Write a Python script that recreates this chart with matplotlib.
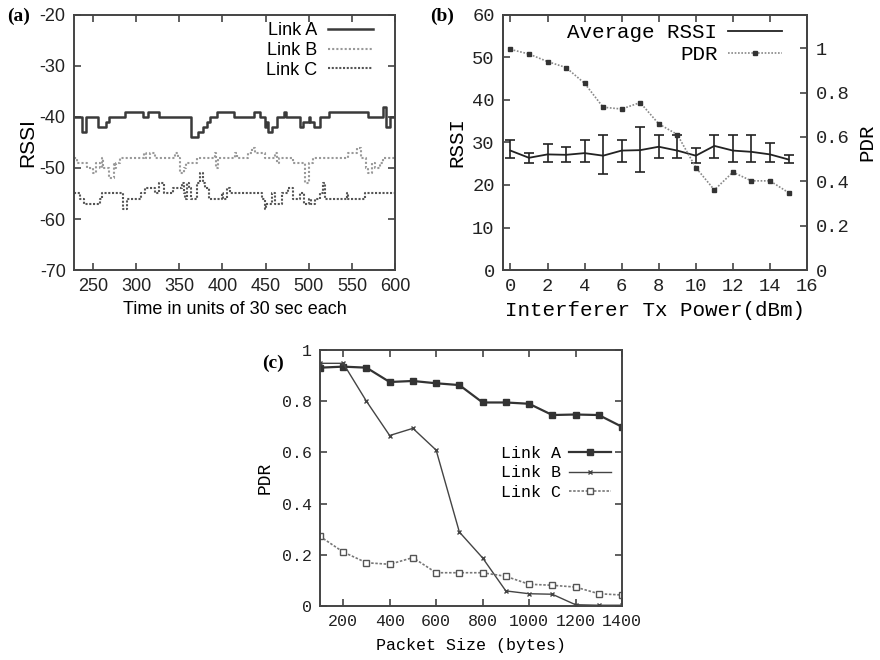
import numpy as np
import matplotlib
matplotlib.use("Agg")
import matplotlib.pyplot as plt
from matplotlib.lines import Line2D

plt.rcParams["axes.unicode_minus"] = False

# ---- (a) RSSI over time, step series (change points)
a_t = [228, 237, 242, 256, 265, 268, 287, 308, 314, 326, 364, 372, 378, 382, 386,
       394, 413, 436, 443, 449, 451, 453, 457, 463, 471, 474, 490, 493, 500, 502,
       506, 513, 523, 569, 586, 590, 594, 600]
a_v = [-40, -43, -40, -42, -41, -40, -39, -40, -39, -40, -44, -43, -42, -41, -40,
       -39, -40, -39, -40, -42, -41, -43, -42, -40, -39, -40, -42, -41, -40, -41,
       -42, -40, -39, -40, -38, -42, -40, -40]

b_t = [228, 231, 243, 250, 254, 258, 260, 262, 268, 274, 276, 277, 281, 309, 312,
       316, 322, 345, 349, 351, 356, 358, 370, 391, 393, 395, 415, 417, 430, 434,
       438, 449, 461, 463, 465, 482, 496, 500, 505, 546, 556, 560, 566, 569, 573,
       577, 583, 586, 600]
b_v = [-48, -49, -50, -51, -49, -50, -48, -50, -52, -49, -50, -49, -48, -47, -48,
       -47, -48, -47, -48, -51, -50, -49, -48, -47, -50, -48, -47, -48, -47, -46,
       -47, -48, -47, -49, -48, -49, -53, -49, -48, -47, -46, -48, -50, -51, -49,
       -50, -49, -48, -48]

c_t = [228, 235, 239, 258, 260, 285, 289, 306, 310, 322, 327, 332, 343, 353, 355,
       357, 359, 361, 364, 370, 374, 378, 380, 384, 399, 401, 405, 409, 446, 449,
       451, 457, 461, 469, 476, 482, 490, 494, 500, 503, 507, 513, 517, 519, 544,
       546, 565, 600]
c_v = [-55, -56, -57, -56, -55, -58, -56, -55, -54, -55, -53, -55, -54, -53, -55,
       -56, -53, -54, -56, -53, -51, -53, -54, -56, -55, -56, -54, -55, -56, -58,
       -57, -55, -57, -55, -54, -56, -55, -57, -56, -57, -56, -55, -53, -56, -55,
       -56, -55, -55]

# ---- (b) interferer power sweep
tx_power = list(range(16))
rssi_avg = [28.1, 26.4, 27.2, 27.1, 27.5, 26.9, 28.1, 28.2, 29.0, 28.1, 26.9, 29.2,
            28.1, 27.8, 27.2, 26.0]
rssi_hi = [30.7, 27.6, 29.6, 29.0, 30.7, 31.8, 30.7, 33.7, 31.7, 31.8, 28.8, 31.7,
           31.7, 31.7, 29.8, 27.1]
rssi_lo = [26.3, 25.1, 25.5, 25.5, 25.5, 22.7, 25.5, 23.1, 26.3, 26.3, 25.1, 26.3,
           25.5, 25.5, 25.5, 25.1]
pdr_b = [0.995, 0.974, 0.940, 0.913, 0.842, 0.734, 0.726, 0.755, 0.659, 0.611,
         0.462, 0.361, 0.441, 0.402, 0.402, 0.349]

# ---- (c) packet size sweep
pkt_size = [100, 200, 300, 400, 500, 600, 700, 800, 900, 1000, 1100, 1200, 1300, 1400]
pdr_a = [0.931, 0.935, 0.931, 0.875, 0.879, 0.870, 0.863, 0.795, 0.795, 0.790,
         0.746, 0.748, 0.746, 0.700]
pdr_bb = [0.948, 0.948, 0.800, 0.666, 0.694, 0.609, 0.289, 0.188, 0.059, 0.048,
          0.046, 0.005, 0.003, 0.003]
pdr_c = [0.272, 0.211, 0.169, 0.163, 0.189, 0.130, 0.130, 0.130, 0.116, 0.085,
         0.081, 0.074, 0.048, 0.043]

SANS = "Liberation Sans"
MONO = "Liberation Mono"
SERIF = "Liberation Serif"
FRAME = "#444444"


def style_axes(ax, font, size, right=True):
    for s in ax.spines.values():
        s.set_color(FRAME)
        s.set_linewidth(1.4)
    ax.tick_params(direction="in", length=5, width=1.2, color=FRAME,
                   top=True, right=right, labelsize=size, pad=6)
    for lab in ax.get_xticklabels() + ax.get_yticklabels():
        lab.set_fontfamily(font)
        lab.set_color("#222222")


fig = plt.figure(figsize=(8.8, 6.6), dpi=100)

# (a)
ax1 = fig.add_axes([0.0841, 0.5909, 0.3648, 0.3864])
ax1.step(a_t, a_v, where="post", color="#3a3a3a", lw=1.8, label="Link A")
ax1.step(b_t, b_v, where="post", color="#999999", lw=1.5, ls=(0, (1, 1)), label="Link B")
ax1.step(c_t, c_v, where="post", color="#555555", lw=1.5, ls=(0, (1, 0.8)), label="Link C")
ax1.set_xlim(228, 600)
ax1.set_ylim(-70, -20)
ax1.set_xticks([250, 300, 350, 400, 450, 500, 550, 600])
ax1.set_yticks([-70, -60, -50, -40, -30, -20])
style_axes(ax1, SANS, 13)
ax1.set_xlabel("Time in units of 30 sec each", fontfamily=SANS, fontsize=13, labelpad=4)
ax1.set_ylabel("RSSI", fontfamily=SANS, fontsize=15, labelpad=2)
ax1.legend(loc="upper right", bbox_to_anchor=(0.955, 1.0), frameon=False,
           markerfirst=False, handlelength=2.5,
           prop={"family": SANS, "size": 13}, labelspacing=0.15,
           borderaxespad=0.2, handletextpad=0.6, borderpad=0.2)
fig.text(0.008, 0.975, "(a)", fontfamily=SERIF, fontweight="bold", fontsize=14, va="center")

# (b)
ax2 = fig.add_axes([0.5716, 0.5909, 0.3455, 0.3864])
yerr = [np.array(rssi_avg) - np.array(rssi_lo), np.array(rssi_hi) - np.array(rssi_avg)]
ax2.errorbar(tx_power, rssi_avg, yerr=yerr, color="#222222", lw=1.3, elinewidth=1.2,
             capsize=3.5, capthick=1.2)
ax2.set_xlim(-0.4, 16)
ax2.set_ylim(0, 60)
ax2.set_xticks(range(0, 17, 2))
ax2.set_yticks(range(0, 61, 10))
ax2r = ax2.twinx()
pdr_line, = ax2r.plot(tx_power, pdr_b, color="#888888", lw=1.2, ls=(0, (1, 1)),
                      marker="s", ms=3, mfc="#333333", mec="#333333")
ax2r.set_ylim(0, 1.15)
ax2r.set_yticks([0, 0.2, 0.4, 0.6, 0.8, 1])
ax2r.set_yticklabels(["0", "0.2", "0.4", "0.6", "0.8", "1"])
style_axes(ax2, MONO, 13.5, right=False)
style_axes(ax2r, MONO, 13.5)
ax2r.tick_params(left=False, top=False)
ax2.set_xlabel("Interferer Tx Power(dBm)", fontfamily=MONO, fontsize=15, labelpad=4)
ax2.set_ylabel("RSSI", fontfamily=MONO, fontsize=15, labelpad=4)
ax2r.set_ylabel("PDR", fontfamily=MONO, fontsize=15, labelpad=6)
rssi_handle = Line2D([], [], color="#222222", lw=1.3)
ax2r.legend([rssi_handle, pdr_line], ["Average RSSI", "PDR"], loc="upper right",
            bbox_to_anchor=(0.945, 1.0), frameon=False, markerfirst=False,
            handlelength=2.6, prop={"family": MONO, "size": 15}, labelspacing=0.15,
            borderaxespad=0.3, handletextpad=0.5, borderpad=0.1)
fig.text(0.489, 0.975, "(b)", fontfamily=SERIF, fontweight="bold", fontsize=14, va="center")

# (c)
ax3 = fig.add_axes([0.3636, 0.0818, 0.3432, 0.3879])
ax3.plot(pkt_size, pdr_a, color="#333333", lw=1.6, marker="s", ms=5, label="Link A")
ax3.plot(pkt_size, pdr_bb, color="#444444", lw=1.0, marker="x", ms=3.5, mew=1,
         label="Link B")
ax3.plot(pkt_size, pdr_c, color="#777777", lw=1.2, ls=(0, (1.5, 1)), marker="s", ms=4.5,
         mfc="white", mec="#555555", label="Link C")
ax3.set_xlim(100, 1400)
ax3.set_ylim(0, 1)
ax3.set_xticks(range(200, 1401, 200))
ax3.set_yticks([0, 0.2, 0.4, 0.6, 0.8, 1])
ax3.set_yticklabels(["0", "0.2", "0.4", "0.6", "0.8", "1"])
style_axes(ax3, MONO, 12)
ax3.set_xlabel("Packet Size (bytes)", fontfamily=MONO, fontsize=12, labelpad=6)
ax3.set_ylabel("PDR", fontfamily=MONO, fontsize=13, labelpad=6)
ax3.legend(loc="center right", bbox_to_anchor=(0.99, 0.52), frameon=False,
           markerfirst=False, handlelength=2.5, prop={"family": MONO, "size": 12},
           labelspacing=0.25, borderaxespad=0.1, handletextpad=0.5)
fig.text(0.298, 0.45, "(c)", fontfamily=SERIF, fontweight="bold", fontsize=14, va="center")

fig.savefig("out.png", dpi=100)
plt.close(fig)
